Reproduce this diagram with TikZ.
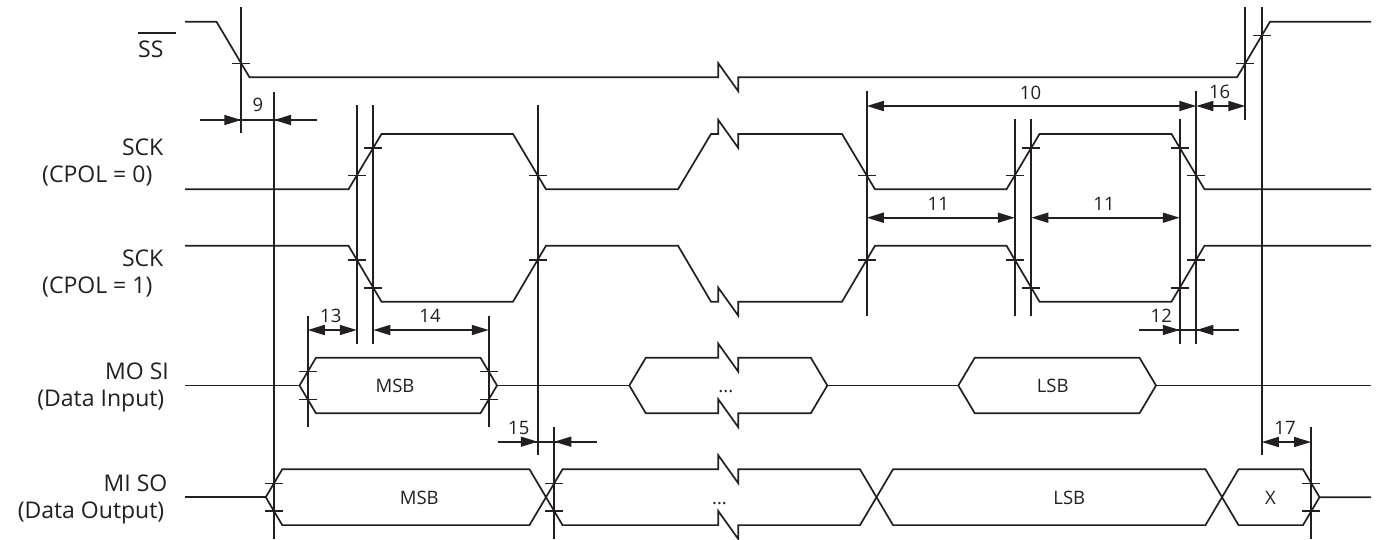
\documentclass[tikz,border=0pt]{standalone}
\usepackage{fontspec}
\setmainfont{Open Sans}
\usetikzlibrary{arrows.meta}
\definecolor{ink}{HTML}{231F20}
\newcommand\sigfont{\fontsize{23}{28}\selectfont}
\newcommand\numfont{\fontsize{18.5}{22}\selectfont}
\newcommand\tickat[2]{\draw[tickmark] ({#1-9},#2) -- ({#1+9},#2);}
\begin{document}
\begin{tikzpicture}[x=1pt,y=-1pt,
  wave/.style={draw=ink,line width=1.7pt,line join=miter},
  vmark/.style={draw=ink,line width=1.6pt},
  tickmark/.style={draw=ink,line width=1.6pt},
  dimline/.style={draw=ink,line width=1.6pt},
  dimboth/.style={dimline,{Triangle[length=17pt,width=10pt]}-{Triangle[length=17pt,width=10pt]}},
  dimto/.style={dimline,-{Triangle[length=17pt,width=10pt]}},
  siglab/.style={font=\sigfont,text=ink,inner sep=0pt,anchor=base east},
  numlab/.style={font=\numfont,text=ink,inner sep=0pt,anchor=base},
]
\useasboundingbox (0,0) rectangle (1380,539);

% ---------- signal labels ----------
\node[siglab,anchor=base west] (lss) at (138,57.3) {SS};
\draw[ink,line width=1.6pt] (138,32.7) -- (175.7,32.7);
\node[siglab] (lsck0) at (163.5,155.7) {SCK};
\node[siglab] (lcpol0) at (152.5,182.8) {(CPOL = 0)};
\node[siglab] (lsck1) at (163.5,266.7) {SCK};
\node[siglab] (lcpol1) at (152.5,293.6) {(CPOL = 1)};
\node[siglab] (lmosi) at (169,379.3) {MO SI};
\node[siglab] (lmosid) at (164.5,406) {(Data Input)};
\node[siglab] (lmiso) at (167.5,491.7) {MI SO};
\node[siglab] (lmisod) at (164.5,518.3) {(Data Output)};

% ---------- SS ----------
\draw[wave] (185,21.7) -- (216.5,21.7) -- (249.5,77.3) -- (718.3,77.3) -- (718.3,63.3)
  -- (738.3,91.3) -- (738.3,77.3) -- (1237,77.3) -- (1270,21.7) -- (1371,21.7);

% ---------- SCK CPOL=0 ----------
\draw[wave] (185,189.3) -- (348.5,189.3) -- (381.5,134) -- (513,134) -- (546,189.3)
  -- (678,189.3) -- (711,134) -- (718.3,134) -- (718.3,120) -- (738.3,148) -- (738.3,134)
  -- (842,134) -- (875,189.3) -- (1006.5,189.3) -- (1039.5,134) -- (1171.5,134)
  -- (1204.5,189.3) -- (1371,189.3);

% ---------- SCK CPOL=1 ----------
\draw[wave] (185,245.7) -- (348.5,245.7) -- (381.5,301.7) -- (513,301.7) -- (546,245.7)
  -- (678,245.7) -- (711,301.7) -- (718.3,301.7) -- (718.3,287.7) -- (738.3,315.7) -- (738.3,301.7)
  -- (842,301.7) -- (875,245.7) -- (1006.5,245.7) -- (1039.5,301.7) -- (1171.5,301.7)
  -- (1204.5,245.7) -- (1371,245.7);

% ---------- MOSI ----------
\draw[wave] (185,385.5) -- (299.5,385.5);
\draw[wave] (299.5,385.5) -- (316,357.7) -- (480.5,357.7) -- (497,385.5) -- (480.5,413.3) -- (316,413.3) -- cycle;
\draw[wave] (497,385.5) -- (629.3,385.5);
\draw[wave] (629.3,385.5) -- (645.8,357.7) -- (718.3,357.7) -- (718.3,343.7) -- (738.3,371.7) -- (738.3,357.7)
  -- (810.8,357.7) -- (827.3,385.5) -- (810.8,413.3) -- (738.3,413.3) -- (738.3,427.3) -- (718.3,399.3)
  -- (718.3,413.3) -- (645.8,413.3) -- cycle;
\draw[wave] (827.3,385.5) -- (958.3,385.5);
\draw[wave] (958.3,385.5) -- (974.8,357.7) -- (1139.5,357.7) -- (1156,385.5) -- (1139.5,413.3) -- (974.8,413.3) -- cycle;
\draw[wave] (1156,385.5) -- (1371,385.5);

% ---------- MISO ----------
\draw[wave] (185,497.2) -- (265.75,497.2);
\draw[wave] (265.75,497.2) -- (282.25,469.3) -- (529.5,469.3) -- (562.5,525.1) -- (718.3,525.1) -- (718.3,511.1)
  -- (738.3,539.1) -- (738.3,525.1) -- (860,525.1) -- (893,469.3) -- (1205.5,469.3) -- (1238.5,525.1)
  -- (1303,525.1) -- (1319.5,497.2) -- (1371,497.2);
\draw[wave] (265.75,497.2) -- (282.25,525.1) -- (529.5,525.1) -- (562.5,469.3) -- (718.3,469.3) -- (718.3,455.3)
  -- (738.3,483.3) -- (738.3,469.3) -- (860,469.3) -- (893,525.1) -- (1205.5,525.1) -- (1238.5,469.3)
  -- (1303,469.3) -- (1319.5,497.2);

% ---------- timing reference lines ----------
\draw[vmark] (241.25,7) -- (241.25,133);
\draw[vmark] (274,91.7) -- (274,539);
\draw[vmark] (356.75,105) -- (356.75,344);
\draw[vmark] (373.25,105) -- (373.25,344);
\draw[vmark] (537.75,105) -- (537.75,455);
\draw[vmark] (866.75,90.7) -- (866.75,316);
\draw[vmark] (1014.75,119.3) -- (1014.75,316);
\draw[vmark] (1031.25,119.3) -- (1031.25,316);
\draw[vmark] (1179.75,119.3) -- (1179.75,344);
\draw[vmark] (1196.25,90.7) -- (1196.25,344);
\draw[vmark] (1245.25,7) -- (1245.25,120);
\draw[vmark] (1261.75,7) -- (1261.75,455);
\draw[vmark] (307.75,316) -- (307.75,427.3);
\draw[vmark] (488.75,316) -- (488.75,427.3);
\draw[vmark] (554.25,427.3) -- (554.25,539);
\draw[vmark] (1311,427.3) -- (1311,539);

% ---------- ticks ----------
\tickat{241.25}{63.4}
\tickat{1245.25}{63.4}
\tickat{1261.75}{35.6}
\tickat{356.75}{175.5}
\tickat{373.25}{147.8}
\tickat{537.75}{175.5}
\tickat{866.75}{175.5}
\tickat{1014.75}{175.5}
\tickat{1031.25}{147.8}
\tickat{1179.75}{147.8}
\tickat{1196.25}{175.5}
\tickat{356.75}{259.7}
\tickat{373.25}{287.7}
\tickat{537.75}{259.7}
\tickat{866.75}{259.7}
\tickat{1014.75}{259.7}
\tickat{1031.25}{287.7}
\tickat{1179.75}{287.7}
\tickat{1196.25}{259.7}
\tickat{307.75}{371.6}
\tickat{307.75}{399.4}
\tickat{488.75}{371.6}
\tickat{488.75}{399.4}
\tickat{274}{483.3}
\tickat{274}{511.1}
\tickat{554.25}{483.3}
\tickat{554.25}{511.1}
\tickat{1311}{483.3}
\tickat{1311}{511.1}

% ---------- dimensions ----------
\draw[dimline] (200,120) -- (316.7,120);
\draw[dimto] (200,120) -- (241.25,120);
\draw[dimto] (316.7,120) -- (274,120);
\node[numlab] (n9) at (258,111.8) {9};

\draw[dimboth] (866.75,106) -- (1196.25,106);
\node[numlab] (n10) at (1030.5,99) {10};
\draw[dimboth] (1196.25,106) -- (1245.25,106);
\node[numlab] (n16) at (1219.7,98.5) {16};

\draw[dimboth] (866.75,217.7) -- (1014.75,217.7);
\node[numlab] (n11a) at (938.3,210.7) {11};
\draw[dimboth] (1031.25,217.7) -- (1179.75,217.7);
\node[numlab] (n11b) at (1104,210.7) {11};

\draw[dimboth] (307.75,330) -- (356.75,330);
\node[numlab] (n13) at (330.8,322.7) {13};
\draw[dimboth] (373.25,330) -- (488.75,330);
\node[numlab] (n14) at (430,322.7) {14};

\draw[dimline] (1139.3,330) -- (1239,330);
\draw[dimto] (1139.3,330) -- (1179.75,330);
\draw[dimto] (1239,330) -- (1196.25,330);
\node[numlab] (n12) at (1161.3,322.7) {12};

\draw[dimline] (497.7,441.7) -- (596.7,441.7);
\draw[dimto] (497.7,441.7) -- (537.75,441.7);
\draw[dimto] (596.7,441.7) -- (554.25,441.7);
\node[numlab] (n15) at (518.8,434.3) {15};

\draw[dimboth] (1261.75,442) -- (1311,442);
\node[numlab] (n17) at (1285,434.3) {17};

% ---------- data labels ----------
\node[numlab] (dmosi1) at (395,392.3) {MSB};
\node[numlab] (dmosi2) at (725.8,392.3) {...};
\node[numlab] (dmosi3) at (1052.7,392.3) {LSB};
\node[numlab] (dmiso1) at (419.3,504) {MSB};
\node[numlab] (dmiso2) at (719.5,504) {...};
\node[numlab] (dmiso3) at (1069.3,504) {LSB};
\node[numlab] (dmiso4) at (1270.5,504) {X};
\end{tikzpicture}
\end{document}
